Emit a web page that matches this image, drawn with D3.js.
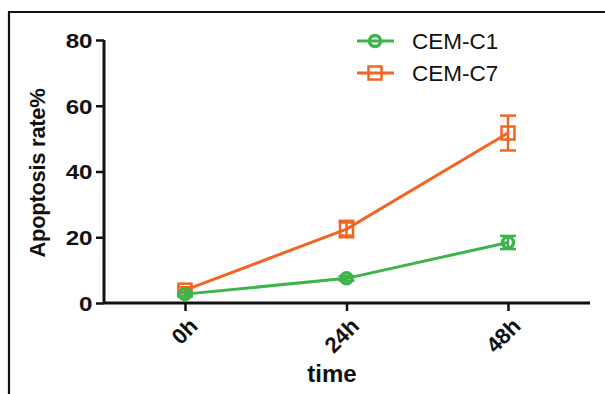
<!DOCTYPE html>
<html><head><meta charset="utf-8">
<script src="https://cdn.jsdelivr.net/npm/d3@7"></script>
<style>body{margin:0;background:#fff}svg{display:block;font-family:"Liberation Sans",Arial,sans-serif}</style>
</head><body>
<svg id="c" width="605" height="394"></svg>
<script>
const categories = ["0h", "24h", "48h"];
const c1Values = [2.7, 7.5, 18.4];
const c1Errors = [0.6, 0.7, 2.0];
const c7Values = [3.9, 22.5, 51.7];
const c7Errors = [0.9, 2.5, 5.3];
const yTicks = [0, 20, 40, 60, 80];
const seriesNames = ["CEM-C1", "CEM-C7"];
const colors = ["#3db54a", "#f26522"];

const svg = d3.select("#c");
// frame
svg.append("path").attr("d","M9,394V12H605").attr("fill","none").attr("stroke","#111").attr("stroke-width",2.2);

const x = d3.scalePoint().domain(categories).range([185, 508]);
const y = d3.scaleLinear().domain([0, 80]).range([303, 40]);

// y axis
const ya = svg.append("g").attr("transform","translate(104,0)")
  .call(d3.axisLeft(y).tickValues(yTicks).tickSize(8).tickPadding(2));
ya.select(".domain").attr("stroke","#111").attr("stroke-width",3).attr("d","M0,40V303");
ya.selectAll(".tick line").attr("stroke","#111").attr("stroke-width",2.5);
ya.selectAll(".tick text").attr("font-size",21).attr("font-weight","bold").attr("fill","#111")
  .attr("dy","0.35em").attr("transform","scale(1.15,1)");

// x axis
const xa = svg.append("g").attr("transform","translate(0,303)")
  .call(d3.axisBottom(x).tickSize(8).tickPadding(4));
xa.select(".domain").attr("stroke","#111").attr("stroke-width",3).attr("d","M104,0H590");
xa.selectAll(".tick line").attr("stroke","#111").attr("stroke-width",2.5);
xa.selectAll(".tick text").attr("font-size",22).attr("font-weight","bold").attr("fill","#111")
  .attr("text-anchor","end").attr("dy",0).attr("transform","translate(5,16) rotate(-45)");

svg.append("text").attr("x",332).attr("y",382).attr("text-anchor","middle")
  .attr("font-size",24).attr("font-weight","bold").attr("fill","#111").text("time");
svg.append("text").attr("transform","translate(45,173) rotate(-90)").attr("text-anchor","middle")
  .attr("font-size",22).attr("font-weight","bold").attr("fill","#111").attr("letter-spacing","-0.3").text("Apoptosis rate%");

const series = [
  {vals:c7Values, errs:c7Errors, color:colors[1], shape:"square"},
  {vals:c1Values, errs:c1Errors, color:colors[0], shape:"circle"}
];
const line = d3.line().x((d,i)=>x(categories[i])).y(d=>y(d));
series.forEach(s=>{
  const g = svg.append("g");
  g.append("path").attr("d",line(s.vals)).attr("fill","none").attr("stroke",s.color).attr("stroke-width",3);
  s.vals.forEach((v,i)=>{
    const cx = x(categories[i]);
    const e = s.errs[i];
    const eb = g.append("g").attr("stroke",s.color).attr("stroke-width",2.5);
    eb.append("line").attr("x1",cx).attr("x2",cx).attr("y1",y(v+e)).attr("y2",y(v-e));
    eb.append("line").attr("x1",cx-8).attr("x2",cx+8).attr("y1",y(v+e)).attr("y2",y(v+e));
    eb.append("line").attr("x1",cx-8).attr("x2",cx+8).attr("y1",y(v-e)).attr("y2",y(v-e));
    if(s.shape==="circle"){
      g.append("circle").attr("cx",cx).attr("cy",y(v)).attr("r",5.5).attr("fill","none").attr("stroke",s.color).attr("stroke-width",3.5);
    } else {
      g.append("rect").attr("x",cx-6.5).attr("y",y(v)-6.5).attr("width",13).attr("height",13).attr("fill","none").attr("stroke",s.color).attr("stroke-width",2.5);
    }
  });
});

// legend
const leg = [{name:seriesNames[0], color:colors[0], shape:"circle", y:41},{name:seriesNames[1], color:colors[1], shape:"square", y:73}];
leg.forEach(l=>{
  const g = svg.append("g");
  g.append("line").attr("x1",357).attr("x2",394).attr("y1",l.y).attr("y2",l.y).attr("stroke",l.color).attr("stroke-width",3);
  if(l.shape==="circle") g.append("circle").attr("cx",375).attr("cy",l.y).attr("r",5.5).attr("fill","none").attr("stroke",l.color).attr("stroke-width",3.5);
  else g.append("rect").attr("x",368.5).attr("y",l.y-6.5).attr("width",13).attr("height",13).attr("fill","none").attr("stroke",l.color).attr("stroke-width",2.5);
  g.append("text").attr("x",412).attr("y",l.y+8).attr("font-size",22.5).attr("fill","#111").text(l.name);
});
</script>
</body></html>
